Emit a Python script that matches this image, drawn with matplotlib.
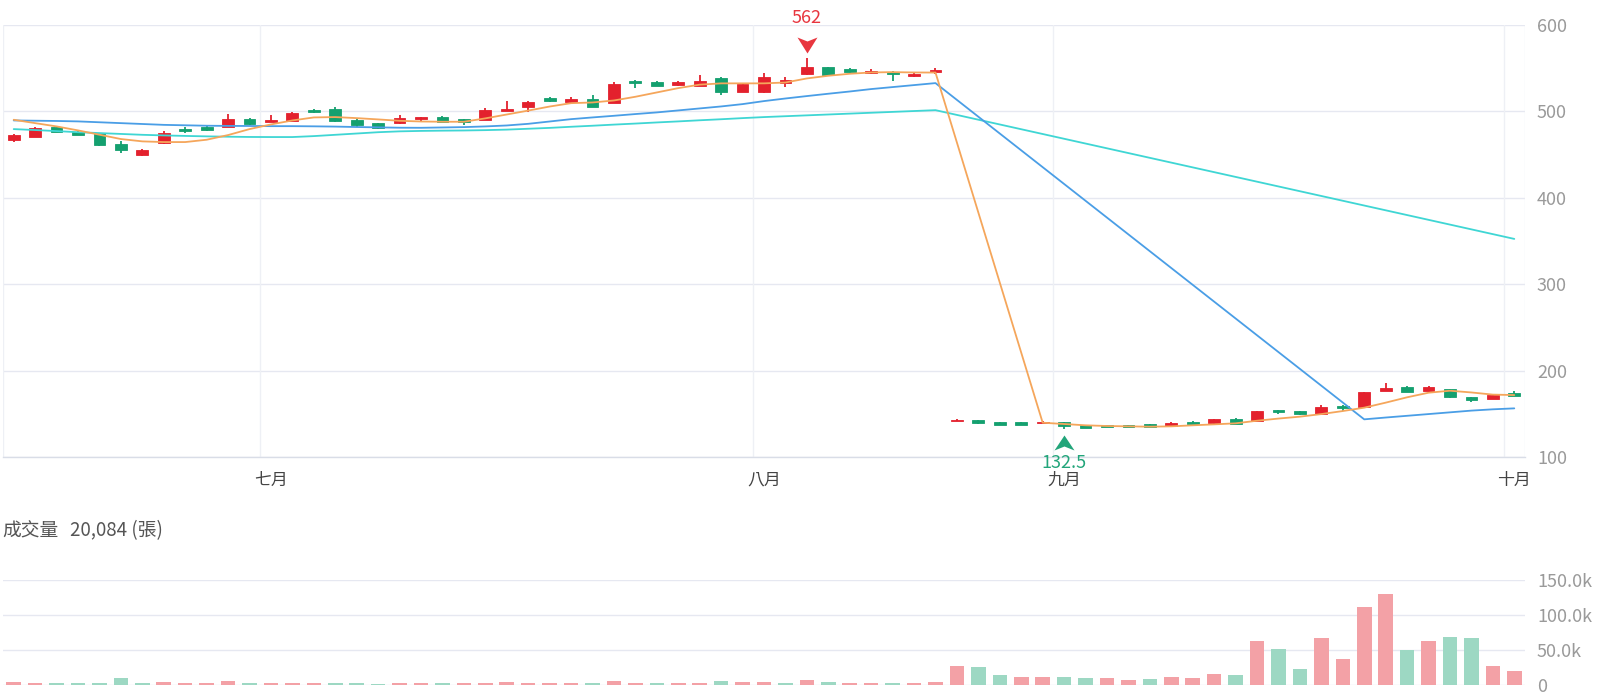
import matplotlib
matplotlib.use('Agg')
import matplotlib.pyplot as plt
import numpy as np
from matplotlib.path import Path
from matplotlib.markers import MarkerStyle

plt.rcParams['font.family'] = ['Noto Sans CJK TC', 'DejaVu Sans']

# ---------------- data ----------------
opens = [467.3, 471.0, 481.5, 476.0, 475.0, 462.0, 450.1, 463.5, 480.0, 481.9,
         482.6, 491.5, 488.0, 489.1, 501.9, 503.0, 490.3, 486.5, 486.8, 491.8,
         493.7, 491.3, 490.4, 501.1, 505.0, 516.0, 510.7, 514.5, 510.3, 535.8,
         534.3, 531.0, 530.0, 539.0, 522.7, 522.3, 532.8, 543.2, 550.9, 549.0,
         544.8, 545.6, 541.3, 545.1,
         142.5, 143.1, 140.5, 140.5, 139.3, 140.8, 137.3, 137.3, 137.3, 138.0,
         136.5, 141.2, 139.3, 144.7, 142.0, 154.7, 153.2, 150.1, 159.6, 158.5,
         176.7, 181.6, 176.7, 179.0, 170.0, 167.7, 174.0]
closes = [472.7, 481.0, 476.5, 473.2, 461.2, 455.8, 455.8, 474.6, 476.9, 478.8,
          491.1, 485.4, 490.4, 498.0, 499.2, 488.4, 484.5, 481.1, 492.6, 493.7,
          488.0, 488.3, 501.9, 503.4, 511.4, 512.2, 514.5, 505.7, 532.0, 532.7,
          530.0, 533.5, 535.8, 522.7, 531.2, 539.7, 536.6, 550.9, 542.1, 545.1,
          547.1, 543.6, 543.6, 548.2,
          143.5, 139.3, 137.4, 137.4, 141.2, 136.2, 134.2, 135.0, 135.4, 135.0,
          139.3, 138.5, 144.3, 138.5, 153.5, 152.0, 150.1, 157.8, 157.0, 175.1,
          180.5, 175.5, 181.3, 169.4, 166.3, 171.7, 170.9]
highs = [474.0, 482.5, 483.4, 478.1, 475.5, 465.4, 456.5, 477.7, 481.5, 483.4,
         497.2, 492.0, 495.6, 499.0, 503.4, 505.7, 491.0, 487.0, 495.6, 494.0,
         494.5, 491.8, 503.8, 512.6, 512.0, 517.2, 517.2, 519.0, 534.3, 536.2,
         535.0, 535.8, 542.4, 540.0, 532.0, 545.0, 539.8, 562.0, 551.5, 550.2,
         549.4, 546.4, 545.2, 549.8,
         144.0, 143.5, 140.8, 140.8, 141.5, 141.2, 137.5, 137.6, 137.6, 138.3,
         140.8, 141.5, 144.7, 145.0, 154.0, 155.0, 153.5, 161.0, 160.0, 175.5,
         186.0, 182.0, 182.8, 179.4, 170.3, 172.2, 176.6]
lows = [464.2, 470.0, 475.8, 472.5, 460.5, 452.0, 448.0, 462.8, 475.0, 477.7,
        481.9, 483.9, 487.5, 488.5, 498.0, 487.6, 482.6, 479.5, 485.6, 487.9,
        487.5, 484.0, 489.6, 500.7, 498.8, 511.0, 509.9, 505.0, 509.5, 527.7,
        529.5, 529.4, 528.9, 519.6, 522.3, 521.2, 528.2, 542.5, 541.5, 543.9,
        542.9, 534.7, 540.0, 543.6,
        142.0, 139.0, 137.0, 137.0, 139.0, 132.5, 133.8, 134.6, 135.0, 134.7,
        135.4, 138.0, 139.0, 138.2, 141.6, 149.7, 149.5, 149.5, 153.2, 158.0,
        176.3, 175.0, 174.4, 169.0, 164.0, 167.3, 170.5]

N = None
ma5 = [490.4, 486.5, 482.7, 478.1, 473.1, 468.1, 465.4, 464.6, 464.6, 467.3,
       472.7, 479.6, 485.0, 489.6, 493.1, 493.5, 492.3, 490.8, 489.2, 488.4,
       488.1, 488.1, 492.0, 496.5, 501.0, 505.7, 509.6, 510.4, 512.7, 517.0,
       522.0, 527.0, 531.0, 532.5, 532.5, 532.5, 533.5, 538.2, 541.3, 543.6,
       545.1, 545.5, 545.1, 545.0,
       N, N, N, N, 140.0, 138.5, 137.0, 136.2, 135.8, 135.4,
       135.8, 137.0, 138.1, 139.3, 142.3, 144.8, 147.0, 150.0, 153.5, 157.4,
       163.2, 169.4, 174.7, 177.0, 175.0, 172.5, 172.0]
ma20 = [489.6, 489.3, 489.0, 488.5, 487.5, 486.5, 485.5, 484.5, 484.0, 483.5,
        483.3, 483.2, 483.0, 483.0, 482.8, 482.5, 482.0, 481.6, 481.2, 481.1,
        481.5, 481.9, 482.7, 483.8, 485.7, 488.4, 491.1, 493.1, 495.0, 497.0,
        498.9, 501.2, 503.5, 505.8, 508.5, 512.0, 515.0, 517.8, 520.5, 523.1,
        525.9, 528.2, 530.5, 532.8,
        N, N, N, N, N, N, N, N, N, N,
        N, N, N, N, N, N, N, N, N, 143.9,
        146.0, 148.0, 150.0, 152.0, 154.0, 155.5, 156.6]
ma60 = [479.6, 478.5, 477.3, 476.0, 475.0, 474.0, 473.0, 472.3, 471.7, 471.2,
        470.8, 470.5, 470.4, 470.4, 471.5, 473.0, 474.5, 476.0, 477.0, 477.5,
        477.8, 478.0, 478.4, 479.0, 480.0, 481.0, 482.3, 483.5, 484.8, 486.0,
        487.3, 488.5, 489.8, 491.0, 492.3, 493.5, 494.5, 495.5, 496.5, 497.5,
        498.5, 499.5, 500.5, 501.5,
        N, N, N, N, N, N, N, N, N, N,
        N, N, N, N, N, N, N, N, N, N,
        N, N, N, N, N, N, 352.6]

volumes = [4300, 2900, 3300, 2400, 2900, 9500, 2900, 4300, 3300, 2900,
           5700, 2900, 2400, 3300, 3300, 3300, 2400, 1900, 2900, 2900,
           2900, 2400, 3300, 3800, 3300, 3300, 2900, 3300, 5700, 3300,
           2900, 2900, 3300, 5200, 3800, 4800, 2900, 7100, 4800, 3300,
           2900, 3300, 2900, 3800,
           27000, 25700, 14300, 11900, 11900, 11400, 9500, 10000, 7600, 9000,
           11000, 10000, 16200, 14300, 62400, 51000, 23300, 67600, 37600, 112000,
           130000, 50000, 62400, 68600, 67000, 27600, 20084]
volume_up = [1, 1, 0, 0, 0, 0, 0, 1, 1, 1,
             1, 0, 1, 1, 1, 0, 0, 0, 1, 1,
             0, 1, 1, 1, 1, 1, 1, 0, 1, 1,
             0, 1, 1, 0, 1, 1, 0, 1, 0, 1,
             1, 0, 1, 1,
             1, 0, 0, 1, 1, 0, 0, 1, 1, 0,
             1, 1, 1, 0, 1, 0, 0, 1, 1, 1,
             1, 0, 1, 0, 0, 1, 1]

month_labels = ['七月', '八月', '九月', '十月']
month_start = [12, 35, 49, 70]
price_ticks = [100, 200, 300, 400, 500, 600]
volume_ticks = [0, 50000, 100000, 150000]
volume_tick_labels = ['0', '50.0k', '100.0k', '150.0k']
volume_title = '成交量'
volume_last_text = '20,084 (張)'

# ---------------- style ----------------
RED = '#E3212D'
GREEN = '#14A06F'
VRED = '#F3A1A6'
VGREEN = '#9DD8C3'
C_MA5 = '#F5A65B'
C_MA20 = '#4A9EE6'
C_MA60 = '#3FD6D4'
GRID = '#E6E8F1'
VGRID = '#EEF0F5'
LABEL = '#9A9A9A'

W, H = 1600, 700
fig = plt.figure(figsize=(16, 7), dpi=100)
L, R = 3, 1525
ax = fig.add_axes([L / W, (H - 457.3) / H, (R - L) / W, (457.3 - 25) / H])
axv = fig.add_axes([L / W, (H - 685) / H, (R - L) / W, (685 - 580) / H])

n = len(opens)
x = np.arange(n)
o = np.array(opens); c = np.array(closes)
hi = np.array(highs); lo = np.array(lows)
up = c >= o
cols = np.where(up, RED, GREEN)

# grid & split lines
for t in price_ticks:
    ax.axhline(t, color=GRID, lw=1.0, zorder=0)
for m in month_start:
    ax.axvline(m - 0.5, color=VGRID, lw=1.0, zorder=0)
ax.axvline(-0.5, color=VGRID, lw=1.0, zorder=0)
ax.axvline(n - 0.5, color=VGRID, lw=1.0, zorder=0)

# candles
ax.vlines(x, lo, hi, colors=cols, lw=1.3, zorder=2)
ax.bar(x, np.abs(c - o), bottom=np.minimum(o, c), width=0.55, color=cols,
       edgecolor=cols, linewidth=0.6, zorder=3)

# moving averages (connect across gaps)
for vals, col in [(ma60, C_MA60), (ma20, C_MA20), (ma5, C_MA5)]:
    xs = [i for i, v in enumerate(vals) if v is not None]
    ys = [v for v in vals if v is not None]
    ax.plot(xs, ys, color=col, lw=1.3, zorder=4, solid_capstyle='round')

# max / min markers
imax = int(np.argmax(hi)); imin = int(np.argmin(lo))
down_arrow = Path([(0, 5), (10, 21), (0, 17), (-10, 21), (0, 5)],
                  [Path.MOVETO, Path.LINETO, Path.LINETO, Path.LINETO, Path.CLOSEPOLY])
up_arrow = Path([(0, -6), (10, -21), (0, -17), (-10, -21), (0, -6)],
                [Path.MOVETO, Path.LINETO, Path.LINETO, Path.LINETO, Path.CLOSEPOLY])
ms = 42 * 72 / 100
ax.plot([imax], [hi[imax]], marker=MarkerStyle(down_arrow), markersize=ms,
        color='#E8363F', markeredgewidth=0, zorder=6, clip_on=False)
ax.plot([imin], [lo[imin]], marker=MarkerStyle(up_arrow), markersize=ms,
        color='#22A57A', markeredgewidth=0, zorder=6, clip_on=False)
ax.annotate(f'{hi[imax]:g}', (imax, hi[imax]), xytext=(0, 40), textcoords='offset pixels',
            ha='center', va='center', color='#E8363F', fontsize=13, zorder=7,
            annotation_clip=False)
ax.annotate(f'{lo[imin]:g}', (imin, lo[imin]), xytext=(0, -34), textcoords='offset pixels',
            ha='center', va='center', color='#22A57A', fontsize=13, zorder=7,
            annotation_clip=False)

ax.set_xlim(-0.5, n - 0.5)
ax.set_ylim(price_ticks[0], price_ticks[-1])
ax.set_yticks(price_ticks)
ax.yaxis.tick_right()
ax.tick_params(axis='y', length=0, pad=8.6, labelsize=13, labelcolor=LABEL)
ax.set_xticks(month_start)
ax.set_xticklabels(month_labels)
ax.tick_params(axis='x', length=0, pad=9.5, labelsize=12.2, labelcolor='#444444')
for s in ['top', 'left', 'right']:
    ax.spines[s].set_visible(False)
ax.spines['bottom'].set_color('#D9DDE7')
ax.spines['bottom'].set_linewidth(1.0)

# volume
v = np.array(volumes)
vcols = np.where(np.array(volume_up) == 1, VRED, VGREEN)
for t in volume_ticks:
    axv.axhline(t, color=GRID, lw=1.0, zorder=0)
axv.bar(x, v, width=0.68, color=vcols, zorder=2)
axv.set_xlim(-0.5, n - 0.5)
axv.set_ylim(volume_ticks[0], volume_ticks[-1])
axv.set_yticks(volume_ticks)
axv.set_yticklabels(volume_tick_labels)
axv.yaxis.tick_right()
axv.tick_params(axis='y', length=0, pad=8.6, labelsize=13, labelcolor=LABEL)
axv.set_xticks([])
for s in axv.spines.values():
    s.set_visible(False)

fig.text(2 / W, 1 - 531 / H, volume_title, ha='left', va='center', fontsize=13.5, color='#555555')
fig.text(70 / W, 1 - 531 / H, volume_last_text, ha='left', va='center', fontsize=13.5, color='#555555')

fig.savefig('out.png', dpi=100, facecolor='white')
